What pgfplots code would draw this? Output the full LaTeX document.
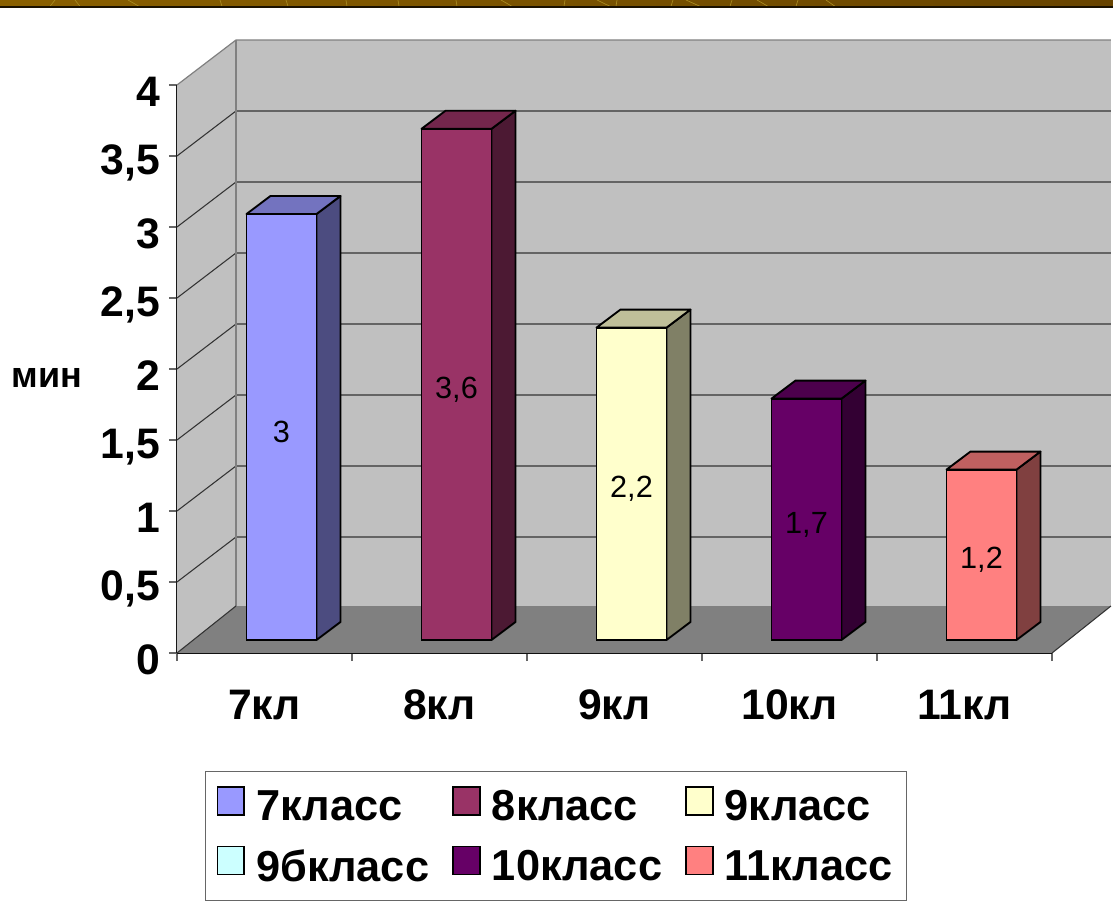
\documentclass[border=0pt]{standalone}
\usepackage{pgfplots}
\pgfplotsset{compat=1.18}
\usepackage{fontspec}
\setmainfont{Liberation Sans}
\definecolor{c7}{HTML}{9999FF}
\definecolor{c8}{HTML}{993366}
\definecolor{c9}{HTML}{FFFFCC}
\definecolor{c9b}{HTML}{CCFFFF}
\definecolor{c10}{HTML}{660066}
\definecolor{c11}{HTML}{FF8080}
\definecolor{wall}{HTML}{C0C0C0}
\definecolor{floorc}{HTML}{808080}
\definecolor{bandl}{HTML}{8A6000}
\definecolor{bandr}{HTML}{684400}
\definecolor{bandline}{HTML}{A88A20}
\pgfplotsset{
  frontplane/.style={
    scale only axis, width=656.25pt, height=426pt,
    xmin=-0.5, xmax=4.5, ymin=0, ymax=4, clip=false},
  face/.style={fill=#1, draw=black, line width=1.4pt, line join=round, forget plot},
  bar/.style={ybar, bar width=52.5pt, bar shift=0pt, fill=#1, draw=black, line width=1.4pt,
    legend image code/.code={\draw[fill=#1,draw=black,line width=1.3pt] (0pt,-6pt) rectangle (20pt,15pt);}},
  grid3d/.style={draw=black!80, line width=0.8pt, forget plot},
}
\begin{document}
\begin{tikzpicture}
\useasboundingbox (-132.75pt,-186pt) rectangle (702pt,489.75pt);
\shade[left color=bandl, right color=bandr] (-132.75pt,489.75pt) rectangle (702pt,485pt);
\foreach \a/\b in {55/50,75/80,128/139,220/222,286/288,346/347,398/399,456/457,501/512,565/564,597/610,617/616,673/671,686/700,732/730,757/768,798/796,826/835}{
  \draw[bandline,line width=0.5pt] ({(\a-177)*0.75pt},489.75pt) -- ({(\b-177)*0.75pt},485pt);
}
\draw[black!75!bandr,line width=1pt] (-132.75pt,484.6pt) -- (702pt,484.6pt);
\begin{axis}[frontplane,
  axis y line*=left, axis x line*=bottom, axis line style={-, black, line width=0.8pt},
  xtick={0,1,2,3,4}, xticklabels={7кл,8кл,9кл,10кл,11кл},
  minor xtick={-0.5,0.5,1.5,2.5,3.5,4.5},
  major x tick style={draw=none},
  minor tick length=6pt, minor tick style={black!60, line width=0.8pt},
  ytick={0,0.5,1,1.5,2,2.5,3,3.5,4},
  yticklabels={0,{0,5},1,{1,5},2,{2,5},3,{3,5},4},
  major tick length=6pt, tick align=outside, ytick style={black!60, line width=0.8pt},
  every tick label/.append style={font=\fontsize{32}{32}\selectfont\bfseries},
  yticklabel style={yshift=-5pt, xshift=-3pt},
  xticklabel style={yshift=-18pt},
]
\addplot[fill=wall, draw=none, forget plot] coordinates {(-0.5,0)(-0.163,0.331)(-0.163,4.317)(-0.5,4)} -- cycle;
\addplot[fill=wall, draw=none, forget plot] coordinates {(-0.163,0.331)(4.837,0.331)(4.837,4.317)(-0.163,4.317)} -- cycle;
\addplot[fill=floorc, draw=none, forget plot] coordinates {(-0.5,0)(4.5,0)(4.837,0.331)(-0.163,0.331)} -- cycle;
\addplot[grid3d] coordinates {(-0.5,0.5)(-0.163,0.817)(4.837,0.817)};
\addplot[grid3d] coordinates {(-0.5,1)(-0.163,1.317)(4.837,1.317)};
\addplot[grid3d] coordinates {(-0.5,1.5)(-0.163,1.817)(4.837,1.817)};
\addplot[grid3d] coordinates {(-0.5,2)(-0.163,2.317)(4.837,2.317)};
\addplot[grid3d] coordinates {(-0.5,2.5)(-0.163,2.817)(4.837,2.817)};
\addplot[grid3d] coordinates {(-0.5,3)(-0.163,3.317)(4.837,3.317)};
\addplot[grid3d] coordinates {(-0.5,3.5)(-0.163,3.817)(4.837,3.817)};
\addplot[draw=floorc, line width=0.9pt, forget plot] coordinates {(-0.5,4)(-0.163,4.317)(4.837,4.317)};
\addplot[draw=floorc, line width=0.9pt, forget plot] coordinates {(-0.163,0.331)(-0.163,4.317)};
\addplot[draw=black!80, line width=0.8pt, forget plot] coordinates {(-0.5,0)(-0.163,0.331)};
\addplot[draw=black!80, line width=0.8pt, forget plot] coordinates {(4.5,0)(4.837,0.331)};
\node[font=\fontsize{27}{27}\selectfont\bfseries] at (axis cs:-0.5,2) [xshift=-97.5pt,yshift=-6.5pt] {мин};
\end{axis}
\begin{axis}[frontplane, xshift=12.75pt, yshift=9.75pt, hide axis,
  legend columns=3,
  legend style={at={(0.4137,-0.345)}, anchor=center, draw=black!60, line width=0.9pt,
    font=\fontsize{32.5}{32.5}\selectfont\bfseries,
    /tikz/every even column/.append style={column sep=15.25pt},
    /tikz/every odd column/.append style={column sep=6.5pt},
    row sep=15pt, inner xsep=8.5pt, inner ysep=10.6pt, cells={anchor=west}},
]
% 7 класс
\addplot[face=c7!50!black] coordinates {(0.2,0)(0.337,0.127)(0.337,3.127)(0.2,3)} -- cycle;
\addplot[face=c7!75!black] coordinates {(-0.2,3)(-0.063,3.127)(0.337,3.127)(0.2,3)} -- cycle;
\addplot[bar=c7] coordinates {(0,3)};
\addlegendentry{7класс}
% 8 класс
\addplot[face=c8!50!black] coordinates {(1.2,0)(1.337,0.127)(1.337,3.727)(1.2,3.6)} -- cycle;
\addplot[face=c8!75!black] coordinates {(0.8,3.6)(0.937,3.727)(1.337,3.727)(1.2,3.6)} -- cycle;
\addplot[bar=c8] coordinates {(1,3.6)};
\addlegendentry{8класс}
% 9 класс
\addplot[face=c9!50!black] coordinates {(2.2,0)(2.337,0.127)(2.337,2.327)(2.2,2.2)} -- cycle;
\addplot[face=c9!75!black] coordinates {(1.8,2.2)(1.937,2.327)(2.337,2.327)(2.2,2.2)} -- cycle;
\addplot[bar=c9] coordinates {(2,2.2)};
\addlegendentry{9класс}
\addlegendimage{bar=c9b}
\addlegendentry{9бкласс}
% 10 класс
\addplot[face=c10!50!black] coordinates {(3.2,0)(3.337,0.127)(3.337,1.827)(3.2,1.7)} -- cycle;
\addplot[face=c10!75!black] coordinates {(2.8,1.7)(2.937,1.827)(3.337,1.827)(3.2,1.7)} -- cycle;
\addplot[bar=c10] coordinates {(3,1.7)};
\addlegendentry{10класс}
% 11 класс
\addplot[face=c11!50!black] coordinates {(4.2,0)(4.337,0.127)(4.337,1.327)(4.2,1.2)} -- cycle;
\addplot[face=c11!75!black] coordinates {(3.8,1.2)(3.937,1.327)(4.337,1.327)(4.2,1.2)} -- cycle;
\addplot[bar=c11] coordinates {(4,1.2)};
\addlegendentry{11класс}
\begin{scope}[every node/.style={font=\fontsize{23}{23}\selectfont, yshift=-4pt}]
\node at (axis cs:0,1.5) {3};
\node at (axis cs:1,1.8) {3,6};
\node at (axis cs:2,1.1) {2,2};
\node at (axis cs:3,0.85) {1,7};
\node at (axis cs:4,0.6) {1,2};
\end{scope}
\end{axis}
\end{tikzpicture}
\end{document}
